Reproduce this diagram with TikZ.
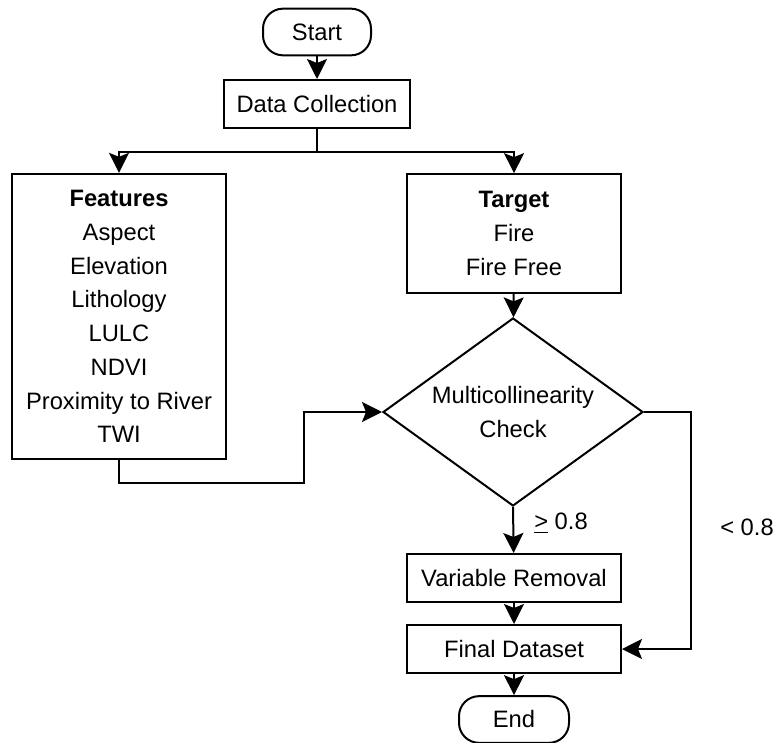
\documentclass[tikz,border=0pt]{standalone}
\usepackage{fontspec}
\setmainfont{Liberation Sans}
\usetikzlibrary{shapes,arrows.meta}

\begin{document}
\begin{tikzpicture}[x=0.75pt,y=-0.75pt,
  font=\fontsize{17.8}{25.3}\selectfont,
  procbox/.style={draw,line width=1.5pt,align=center,inner sep=0pt,minimum width=160.5pt},
  termbox/.style={draw,line width=1.5pt,rounded corners=15pt,minimum width=81pt,minimum height=35pt},
  checkbox/.style={draw,diamond,aspect=1.4,line width=1.5pt,align=center,inner sep=0pt,
    minimum width=195pt,minimum height=141pt},
  flow/.style={line width=1.5pt,-{Stealth[length=15pt 0,width=15pt 0,inset=3pt 0]}}]
  \useasboundingbox (0,0) rectangle (774,742);

  \node[termbox] (start) at (317,32) {Start};
  \node[procbox,minimum width=139pt,minimum height=36pt] (collect) at (317,104) {Data Collection};
  \node[procbox,minimum height=214pt] (feat) at (119,316.5)
    {\textbf{Features}\\Aspect\\Elevation\\Lithology\\LULC\\NDVI\\Proximity to River\\TWI};
  \node[procbox,minimum height=89pt] (target) at (514,233.5)
    {\textbf{Target}\\Fire\\Fire Free};
  \node[checkbox] (check) at (513,412) {Multicollinearity\\Check};
  \node[procbox,minimum height=36pt] (removal) at (514,578) {Variable Removal};
  \node[procbox,minimum height=36pt] (final) at (514,649) {Final Dataset};
  \node[termbox,minimum width=82.5pt] (end) at (514,719.5) {End};

  \node (geq) at (561,523) {\underline{>} 0.8};
  \node (less) at (747,527) {< 0.8};

  \coordinate (split) at (317,152);
  \coordinate (bend) at (304,483);
  \coordinate (loop) at (691,412);

  \draw[flow] (start) -- (collect);
  \draw[line width=1.5pt] (collect.south) -- (split);
  \draw[flow] (split) -| (feat.north);
  \draw[flow] (split) -| (target.north);
  \draw[flow] (target) -- (check);
  \draw[flow] (feat.south) |- (bend) |- (check.west);
  \draw[flow] (check.south) -- (removal);
  \draw[flow] (removal) -- (final);
  \draw[flow] (final) -- (end);
  \draw[flow] (check.east) -- (loop) |- (final.east);
\end{tikzpicture}
\end{document}
